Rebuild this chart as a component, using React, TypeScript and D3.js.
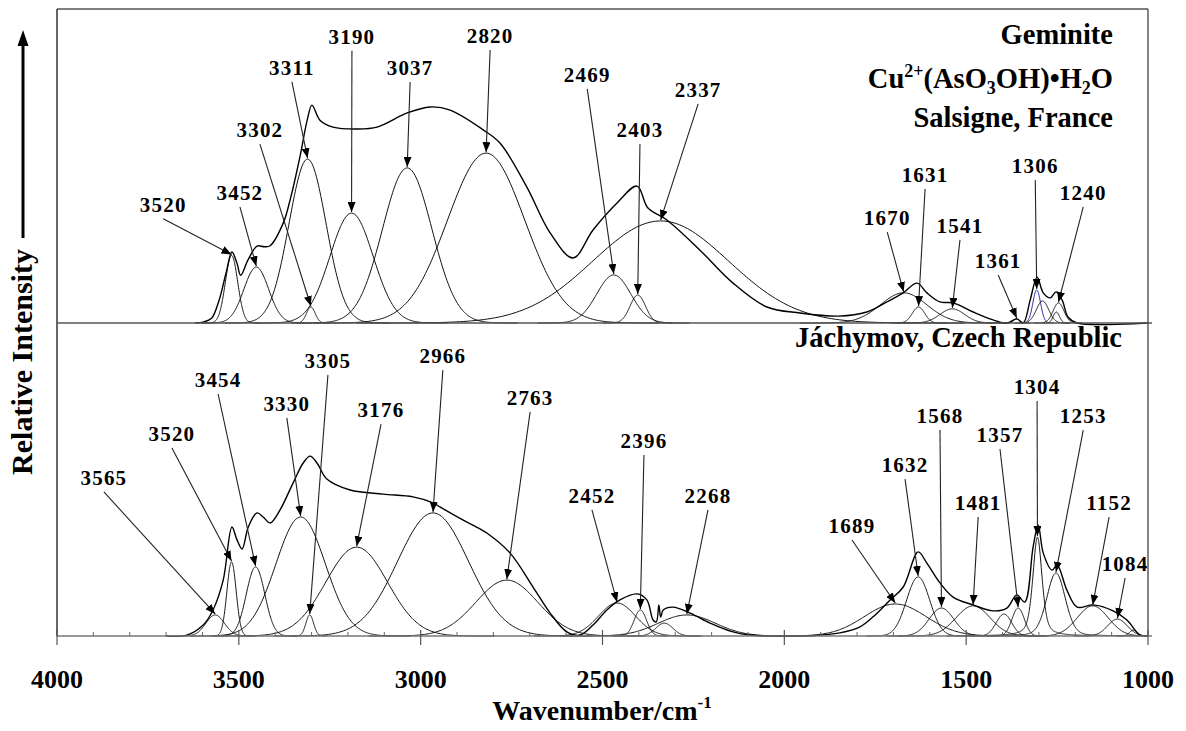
import React from "react";
import * as d3 from "d3";

const width = 1186;
const height = 731;

// fitted bands: [label, centre (cm-1), height, fwhm, lorentz share]
const topBands: [string, number, number, number, number][] = [
  ["3520", 3520, 21.5, 40, 0],
  ["3452", 3452, 17.8, 80, 0],
  ["3311", 3311, 52.2, 120, 0],
  ["3302", 3302, 5.1, 28, 0],
  ["3190", 3190, 35.0, 140, 0],
  ["3037", 3037, 49.4, 160, 0],
  ["2820", 2820, 54.1, 250, 0],
  ["2469", 2469, 15.3, 110, 0],
  ["2403", 2403, 8.9, 50, 0],
  ["2337", 2340, 32.5, 440, 0],
  ["1670", 1672, 9.6, 150, 0],
  ["1631", 1631, 5.1, 40, 0],
  ["1541", 1538, 4.5, 80, 0],
  ["1361", 1361, 1.3, 20, 0],
  ["1306", 1306, 10.5, 25, 0],
  ["", 1290, 7.0, 40, 0],
  ["1240", 1246, 6.4, 35, 0],
  ["", 1252, 3.5, 20, 0]
];

const bottomBands: [string, number, number, number, number][] = [
  ["3565", 3565, 6.7, 60, 0],
  ["3520", 3520, 23.6, 30, 0],
  ["3454", 3454, 22.0, 60, 0],
  ["3330", 3330, 37.9, 160, 0],
  ["3305", 3305, 6.7, 25, 0],
  ["3176", 3176, 28.3, 200, 0],
  ["2966", 2966, 39.2, 230, 0],
  ["2763", 2763, 17.8, 200, 0],
  ["2452", 2460, 10.5, 120, 0],
  ["2396", 2396, 8.3, 40, 0],
  ["", 2330, 4.1, 55, 0],
  ["2268", 2268, 6.7, 185, 0],
  ["1689", 1695, 10.2, 200, 0],
  ["1632", 1632, 18.8, 75, 0],
  ["1568", 1568, 8.9, 80, 0],
  ["1481", 1481, 9.6, 110, 0],
  ["", 1396, 7.0, 50, 0],
  ["1357", 1357, 8.9, 40, 0],
  ["1304", 1304, 31.5, 30, 0.5],
  ["1253", 1253, 20.1, 60, 0.2],
  ["1152", 1152, 9.6, 100, 0],
  ["1084", 1084, 5.4, 63, 0],
  ["", 1040, 1.9, 25, 0]
];

// measured spectra [cm-1, intensity]
const topSpectrum: [number, number][] = [
  [3620, 0], [3598, 0.3], [3575, 1.5], [3555, 7], [3535, 16], [3519, 22.6],
  [3505, 19], [3495, 15.2], [3475, 20], [3450, 24.5], [3430, 24.3], [3414, 24.6],
  [3378, 31.8], [3359, 39.2], [3332, 52.9], [3312, 64.6], [3299, 69.4], [3277, 64.6],
  [3241, 62.4], [3175, 61.8], [3120, 62.4], [3037, 66.9], [2974, 68.8], [2919, 67.8],
  [2828, 61.5], [2782, 57.3], [2708, 43.3], [2644, 28.7], [2581, 20.7], [2526, 29.6],
  [2460, 38.2], [2405, 43.6], [2375, 36.6], [2323, 32.8], [2232, 23.2], [2141, 12.7],
  [2048, 5.1], [1957, 3.2], [1850, 2.2], [1773, 3.5], [1718, 6.7], [1673, 9.6],
  [1635, 12.7], [1608, 9.6], [1572, 6.7], [1536, 6.4], [1481, 3.5], [1426, 1.0],
  [1388, 0], [1361, 1.3], [1343, 0], [1324, 7.3], [1305, 14.6], [1288, 9.6],
  [1269, 8.0], [1253, 9.9], [1236, 7.3], [1220, 1.9], [1195, 0], [1000, 0]
];

const bottomSpectrum: [number, number][] = [
  [3700, 0], [3643, 0.3], [3598, 3.5], [3571, 8.3], [3543, 17.8], [3519, 34.7],
  [3505, 30.6], [3491, 27.7], [3474, 34.7], [3450, 39.2], [3433, 37.9], [3414, 36.0],
  [3387, 40.1], [3351, 48.7], [3323, 55.1], [3304, 57.3], [3285, 55.1], [3258, 50.0],
  [3194, 46.5], [3103, 45.2], [3021, 44.3], [2966, 42.4], [2947, 41.1], [2883, 36.9],
  [2837, 34.1], [2818, 32.8], [2754, 26.4], [2691, 15.6], [2644, 7.3], [2598, 1.3],
  [2562, 0.3], [2526, 3.5], [2488, 8.3], [2452, 11.5], [2405, 13.4], [2378, 11.5],
  [2361, 5.1], [2352, 4.5], [2345, 9.9], [2340, 6], [2333, 8.3], [2306, 9.2],
  [2259, 7.3], [2204, 4.1], [2141, 1.3], [2094, 0.3], [1957, 0], [1847, 1.0],
  [1792, 2.9], [1756, 6.1], [1709, 11.5], [1673, 15.6], [1632, 26.8], [1608, 23.2],
  [1572, 16.9], [1536, 12.4], [1481, 9.9], [1426, 8.0], [1388, 8.9], [1361, 13.1],
  [1339, 10.8], [1316, 28.3], [1302, 35.4], [1288, 26.4], [1264, 21.0], [1250, 22.6],
  [1223, 14.6], [1195, 9.2], [1151, 9.9], [1096, 8.0], [1058, 5.1], [1022, 0.3], [1000, 0]
];

const majorTicks = [4000, 3500, 3000, 2500, 2000, 1500, 1000];

// label anchors in data units [cm-1, intensity], same order as labelled bands
const topLabelAt: [number, number][] = [
  [3708, 35.4], [3497, 39.2], [3354, 79.0], [3442, 59.2], [3189, 88.9], [3029, 79.0],
  [2809, 89.2], [2542, 76.8], [2397, 59.2], [2237, 72.0], [1717, 31.2], [1613, 44.9],
  [1517, 28.7], [1412, 17.5], [1310, 47.8], [1178, 39.2]
];

const bottomLabelAt: [number, number][] = [
  [3871, 48.1], [3684, 62.1], [3557, 79.3], [3368, 71.7], [3255, 85.4], [3109, 69.7],
  [2939, 86.9], [2699, 73.6], [2529, 42.4], [2386, 59.9], [2210, 42.4], [1814, 32.8],
  [1668, 52.2], [1572, 67.8], [1467, 40.1], [1407, 61.8], [1305, 77.1], [1178, 67.8],
  [1107, 40.1], [1063, 20.7]
];

const serif = "'Liberation Serif', 'Times New Roman', serif";

const x = d3.scaleLinear().domain([4000, 1000]).range([57, 1148]);
const yTop = d3.scaleLinear().domain([0, 100]).range([323, 9]);
const yBot = d3.scaleLinear().domain([0, 100]).range([636, 322]);

function profile(b: [string, number, number, number, number], w: number) {
  const [, c, h, f, eta] = b;
  const t = (w - c) / f;
  return h * ((1 - eta) * Math.exp(-4 * Math.LN2 * t * t) + eta / (1 + 4 * t * t));
}

function bandPoints(b: [string, number, number, number, number]) {
  const [, c, , f, eta] = b;
  const span = f * (eta > 0 ? 5 : 1.9);
  const lo = Math.max(1000, c - span);
  const hi = Math.min(4000, c + span);
  const step = Math.max(0.5, f / 60);
  return d3.range(hi, lo, -step).concat([lo]).map(w => [w, profile(b, w)] as [number, number]);
}

function Panel({ bands, spectrum, labelAt, y, highlight }: {
  bands: [string, number, number, number, number][];
  spectrum: [number, number][];
  labelAt: [number, number][];
  y: d3.ScaleLinear<number, number>;
  highlight?: string;
}) {
  const line = d3.line<[number, number]>().x(d => x(d[0])).y(d => y(d[1]));
  const smooth = d3.line<[number, number]>().x(d => x(d[0])).y(d => y(d[1])).curve(d3.curveCatmullRom.alpha(0.5));
  const labelled = bands.filter(b => b[0] !== "");
  return (
    <g>
      {bands.map((b, i) => (
        <path key={i} d={line(bandPoints(b)) || ""} fill="none"
          stroke={b[0] === highlight ? "#1a1aa0" : "#111"} strokeWidth={1} />
      ))}
      <path d={smooth(spectrum) || ""} fill="none" stroke="#000" strokeWidth={1.4} />
      {labelled.map((b, i) => {
        const [lw, li] = labelAt[i];
        const lx = x(lw);
        const ly = y(li);
        const px = x(b[1]);
        const py = y(b[2]);
        return (
          <g key={b[0]}>
            <line x1={lx} y1={ly + 7} x2={px} y2={py - 1} stroke="#222" strokeWidth={1.1}
              markerEnd="url(#tip)" />
            <text x={lx} y={ly} textAnchor="middle" fontWeight="bold"
              style={{ fontFamily: serif, fontSize: 21, letterSpacing: 1.2 }}>{b[0]}</text>
          </g>
        );
      })}
    </g>
  );
}

export default function App() {
  const minor = d3.range(1000, 4001, 100).filter(v => v % 500 !== 0);
  return (
    <svg width={width} height={height} viewBox={`0 0 ${width} ${height}`}
      style={{ position: "absolute", left: 0, top: 0, background: "#fff", fontFamily: serif }}>
      <defs>
        <marker id="tip" viewBox="0 0 10 8" refX={10} refY={4} markerWidth={10} markerHeight={8}
          markerUnits="userSpaceOnUse" orient="auto">
          <path d="M0,0 L10,4 L0,8 z" fill="#000" />
        </marker>
      </defs>

      <Panel bands={topBands} spectrum={topSpectrum} labelAt={topLabelAt} y={yTop} highlight="1306" />
      <Panel bands={bottomBands} spectrum={bottomSpectrum} labelAt={bottomLabelAt} y={yBot} />

      {/* frame */}
      <line x1={57} x2={1148} y1={9} y2={9} stroke="#000" strokeWidth={1.2} />
      <line x1={57} x2={57} y1={9} y2={636} stroke="#000" strokeWidth={1.2} />
      <line x1={1148} x2={1148} y1={9} y2={636} stroke="#333" strokeWidth={1.2} />
      <line x1={57} x2={1152} y1={yTop(0)} y2={yTop(0)} stroke="#555" strokeWidth={1.5} />
      <line x1={57} x2={1152} y1={yBot(0)} y2={yBot(0)} stroke="#777" strokeWidth={1.6} />

      {/* axis ticks */}
      {majorTicks.map(v => (
        <g key={v}>
          <line x1={x(v)} x2={x(v)} y1={yBot(0) - 6} y2={yBot(0) + 9} stroke="#555" strokeWidth={1.2} />
          <text x={x(v)} y={688} textAnchor="middle" fontWeight="bold"
            style={{ fontFamily: serif, fontSize: 26 }}>{v}</text>
        </g>
      ))}
      {minor.map(v => (
        <line key={v} x1={x(v)} x2={x(v)} y1={yBot(0) - 4} y2={yBot(0)} stroke="#666" strokeWidth={1} />
      ))}

      <text x={602} y={720} textAnchor="middle" fontWeight="bold" style={{ fontFamily: serif, fontSize: 28 }}>
        Wavenumber/cm<tspan dy={-12} style={{ fontSize: 17 }}>-1</tspan>
      </text>

      <text transform="translate(32,362) rotate(-90)" textAnchor="middle" fontWeight="bold"
        style={{ fontFamily: serif, fontSize: 30 }}>Relative Intensity</text>
      <line x1={23} x2={23} y1={238} y2={42} stroke="#000" strokeWidth={3} />
      <path d="M23,30 L17.5,46 L28.5,46 z" fill="#000" />

      {/* sample titles */}
      <g fontWeight="bold" textAnchor="end" style={{ fontFamily: serif, fontSize: 28.5 }}>
        <text x={1113} y={44}>Geminite</text>
        <text x={1113} y={88}>
          Cu<tspan dy={-11} style={{ fontSize: 18 }}>2+</tspan>
          <tspan dy={11}>(AsO</tspan>
          <tspan dy={6} style={{ fontSize: 18 }}>3</tspan>
          <tspan dy={-6}>OH)•H</tspan>
          <tspan dy={6} style={{ fontSize: 18 }}>2</tspan>
          <tspan dy={-6}>O</tspan>
        </text>
        <text x={1113} y={127}>Salsigne, France</text>
        <text x={1122} y={347}>Jáchymov, Czech Republic</text>
      </g>
    </svg>
  );
}
